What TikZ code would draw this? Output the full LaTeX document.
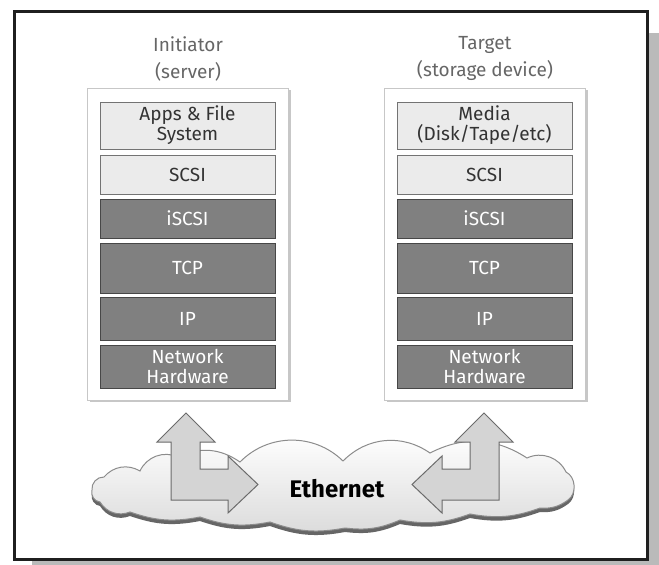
\documentclass[tikz,border=0pt]{standalone}
\usepackage{fontspec}
\setmainfont{Fira Sans}
\usetikzlibrary{positioning,shadows}

\begin{document}
\begin{tikzpicture}[x=1pt,y=-1pt]

		\tikzset{font=\fontsize{19}{20}\selectfont}
		\tikzset{stack/.style={draw=black!22,fill=white,line width=1pt,minimum width=201pt,minimum height=312pt,inner sep=0pt,drop shadow={shadow xshift=2pt,shadow yshift=-2pt,fill=black!22,opacity=1}}}
		\tikzset{layer/.style={draw=black!55,line width=1pt,fill=black!8,text=black!80,minimum width=175pt,inner sep=0pt,align=center}}
		\tikzset{dark/.style={layer,fill=black!50,draw=black!72,text=white}}
		\tikzset{title/.style={text=black!60,align=center,font=\fontsize{19}{27}\selectfont}}
		\tikzset{bigarrow/.style={draw=black!58,fill=black!17,line width=1pt,line join=miter}}
		\tikzset{cloudline/.style={draw=black!45,line width=1pt,top color=white,bottom color=black!14}}

		\useasboundingbox (0,0) rectangle (659,565);

		% frame and its shadow
		\fill[black!27] (32,33) rectangle (659,565);
		\draw[line width=3pt,draw=black!88,fill=white] (14.5,11.5) rectangle (647.5,559);

		% Initiator stack.
		\node[title] (ini) at (188,58.5) {Initiator\\(server)};
		\node[stack] (inibox) at (188,244) {};
		\node[layer,minimum height=47pt] (iapp) at (187.5,125.5) {Apps \& File\\System};
		\node[layer,minimum height=39pt] (iscsi) at (187.5,174.5) {SCSI};
		\node[dark,minimum height=39pt] (iiscsi) at (187.5,218.5) {iSCSI};
		\node[dark,minimum height=50pt] (itcp) at (187.5,268) {TCP};
		\node[dark,minimum height=43pt] (iip) at (187.5,318.5) {IP};
		\node[dark,minimum height=43pt] (ihw) at (187.5,366.5) {Network\\Hardware};

		% Target stack.
		\node[title] (tgt) at (485,58.5) {Target\\(storage device)};
		\node[stack] (tgtbox) at (485,244) {};
		\node[layer,minimum height=47pt] (tmedia) at (484.5,125.5) {Media\\(Disk/Tape/etc)};
		\node[layer,minimum height=39pt] (tscsi) at (484.5,174.5) {SCSI};
		\node[dark,minimum height=39pt] (tiscsi) at (484.5,218.5) {iSCSI};
		\node[dark,minimum height=50pt] (ttcp) at (484.5,268) {TCP};
		\node[dark,minimum height=43pt] (tip) at (484.5,318.5) {IP};
		\node[dark,minimum height=43pt] (thw) at (484.5,366.5) {Network\\Hardware};

		% Ethernet cloud, shadow first
		\def\cloudpath{(92,490) to[bend left=50] (104,477) to[bend left=40] (140,471)
			to[bend left=45] (178,457) to[bend left=30] (240,462) to[bend left=45] (343,461)
			to[bend left=40] (430,453) to[bend left=30] (527,458) to[bend left=45] (566,472)
			to[bend left=60] (568,500) to[bend left=20] (540,508) to[bend left=15] (470,514)
			to[bend left=15] (400,520) to[bend left=15] (345,528) to[bend left=15] (270,522)
			to[bend left=15] (200,517) to[bend left=15] (130,512) to[bend left=40] (100,502)
			to[bend left=50] cycle}
		\fill[black!60,yshift=-4pt] \cloudpath;
		\path[cloudline] \cloudpath;
		\node[font=\fontsize{24}{24}\selectfont\bfseries] (net) at (337,489) {Ethernet};

		% arrows between the stacks and the cloud
		\path[bigarrow] (186,413) -- (215,442) -- (200,442) -- (200,469) -- (228,469) -- (228,456)
			-- (258,484.5) -- (228,513) -- (228,500) -- (171,500) -- (171,442) -- (157,442) -- cycle;
		\path[bigarrow] (484,413) -- (513,442) -- (499,442) -- (499,500) -- (442,500) -- (442,513)
			-- (412,484.5) -- (442,456) -- (442,469) -- (470,469) -- (470,442) -- (455,442) -- cycle;

\end{tikzpicture}
\end{document}
